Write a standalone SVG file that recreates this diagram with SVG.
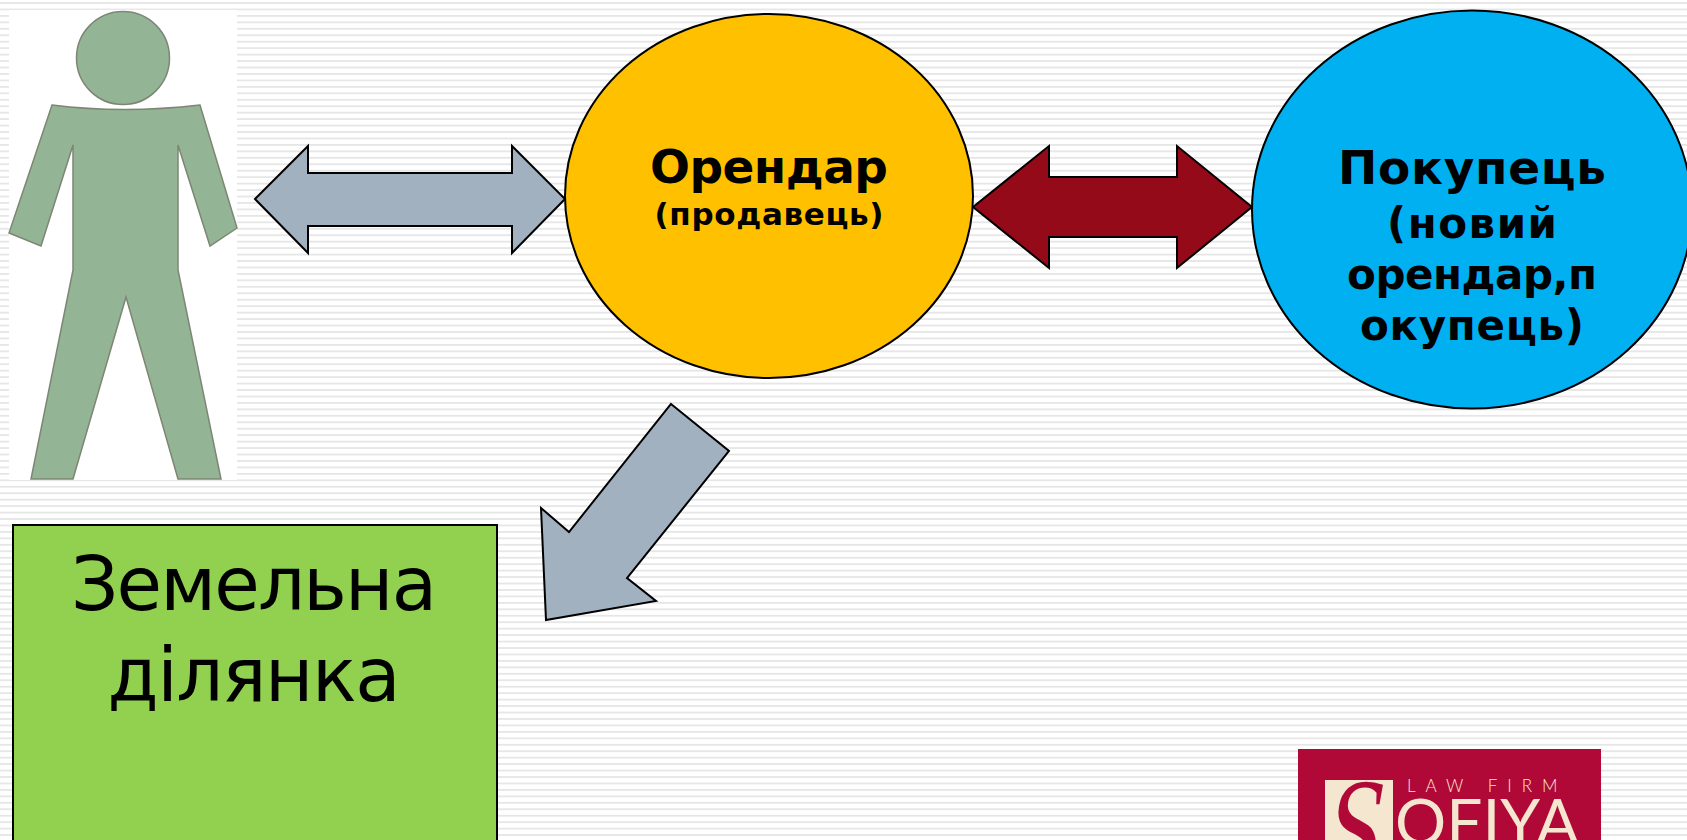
<svg xmlns="http://www.w3.org/2000/svg" width="1687" height="840" viewBox="0 0 1687 840">
<style>
.a{stroke:#000;stroke-width:2;stroke-linejoin:miter}
.t{font-family:"DejaVu Sans","Liberation Sans",sans-serif;text-anchor:middle;fill:#000}
.b{font-weight:bold}
.fig{fill:#93b595;stroke:#7d8674;stroke-width:1.5}
.logo{font-family:Lato,"Liberation Sans",sans-serif;fill:#f5e6d0}
</style>
<defs>
<pattern id="lines" patternUnits="userSpaceOnUse" x="0" y="2.1" width="40" height="6.45">
<rect width="40" height="6.45" fill="#fff"/>
<rect y="0" width="40" height="1.8" fill="#e6e6e6"/>
</pattern>
</defs>
<rect id="background" width="1687" height="840" fill="url(#lines)"/>
<g id="person">
<rect x="9" y="10" width="228" height="470" fill="#fff"/>
<circle class="fig" cx="123" cy="58" r="46.5"/>
<path class="fig" d="M52 105Q123 114 200 105L237 228L210 246L178 145V270L221 479H178L126 297L73 479H31L73 270V145L41 246L9 233Z"/>
</g>
<g id="connectors">
<path class="a" fill="#a2b1c0" d="M255 199L308 146V173H512V146L565 199L512 253V226H308V253Z"/>
<path class="a" fill="#940a18" d="M973 207L1049 146V177H1177V146L1252 207L1177 268V237H1049V268Z"/>
<path class="a" fill="#a2b1c0" d="M671 404L729 451L627 578L656 601L546 620L541 508L569 532Z"/>
</g>
<g id="orendar">
<ellipse class="a" cx="769" cy="196" rx="204" ry="182" fill="#ffc000"/>
<text class="t b" x="769" y="183" font-size="47" textLength="238">Орендар</text>
<text class="t b" x="769" y="225" font-size="31" textLength="229">(продавець)</text>
</g>
<g id="pokupets">
<ellipse class="a" cx="1472" cy="209.5" rx="220" ry="199" fill="#00b0f0"/>
<text class="t b" x="1472" y="184" font-size="47" textLength="268">Покупець</text>
<text class="t b" x="1472" y="238" font-size="42" textLength="170">(новий</text>
<text class="t b" x="1472" y="289" font-size="42" textLength="250">орендар,п</text>
<text class="t b" x="1472" y="340" font-size="42" textLength="224">окупець)</text>
</g>
<g id="land">
<rect class="a" x="13" y="525" width="484" height="330" fill="#92d050"/>
<text class="t" x="254" y="610" font-size="74" textLength="366">Земельна</text>
<text class="t" x="254" y="701" font-size="74" textLength="293">ділянка</text>
</g>
<g id="logo">
<rect x="1298" y="749" width="303" height="91" fill="#b00837"/>
<rect x="1325" y="780" width="68" height="60" fill="#f5e6d0"/>
<text transform="translate(1348 877) skewX(-10) scale(.85 1.2)" font-family="'Liberation Serif',serif" font-size="120" fill="#b00837" text-anchor="middle">S</text>
<text class="logo" x="1407" y="792" font-size="17" font-weight="300" letter-spacing="10">LAW FIRM</text>
<text class="logo" x="1395" y="845" font-size="64">OFIYA</text>
</g>
</svg>
